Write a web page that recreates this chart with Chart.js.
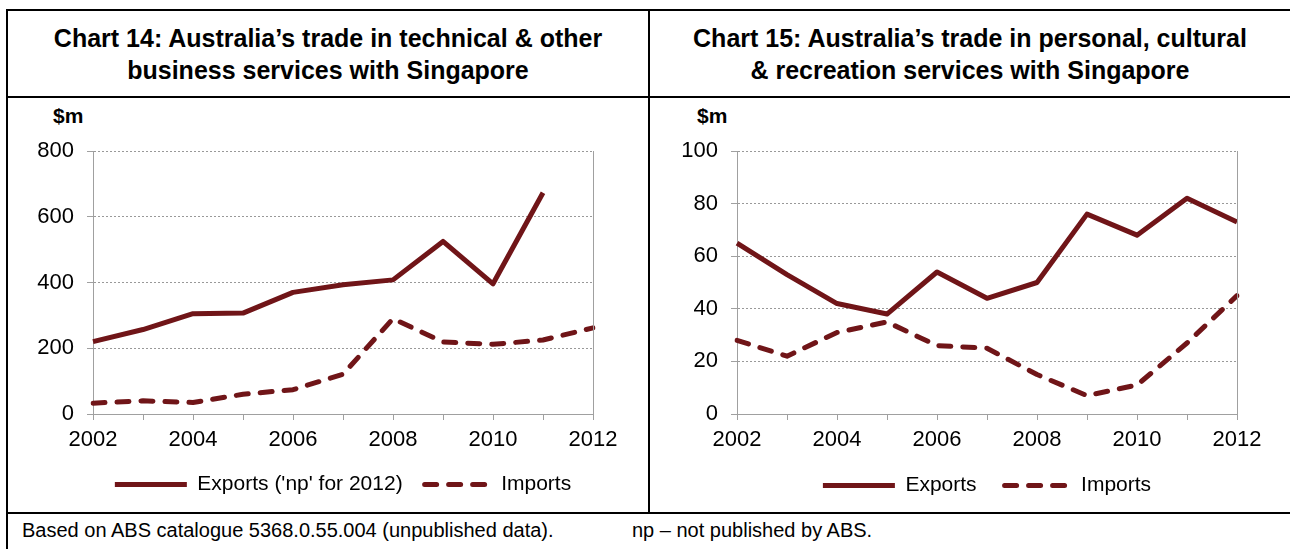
<!DOCTYPE html>
<html>
<head>
<meta charset="utf-8">
<script src="https://cdn.jsdelivr.net/npm/chart.js@4.4.1/dist/chart.umd.min.js"></script>
<style>
    body { margin: 0; background: #fff; font-family: "Liberation Sans", Arial, sans-serif; }
    #page { position: relative; width: 1290px; height: 549px; overflow: hidden; }
    .rule { position: absolute; background: #000; }
    .title {
        position: absolute; top: 11px; height: 85px; width: 640px;
        display: flex; align-items: center; justify-content: center;
        text-align: center; font-weight: bold; font-size: 25px; line-height: 32px;
    }
    .unit { position: absolute; top: 104px; font-weight: bold; font-size: 21px; }
    .box { position: absolute; top: 98px; width: 640px; height: 414px; }
    .note { position: absolute; top: 519px; font-size: 20px; }
</style>
</head>
<body>
<div id="page">
    <div class="rule" style="left:6px;top:9px;width:1284px;height:2px"></div>
    <div class="rule" style="left:6px;top:9px;width:2px;height:540px"></div>
    <div class="rule" style="left:6px;top:96px;width:1284px;height:2px"></div>
    <div class="rule" style="left:648px;top:9px;width:2px;height:505px"></div>
    <div class="rule" style="left:6px;top:512px;width:1284px;height:2px"></div>

    <div class="title" style="left:8px">Chart 14: Australia’s trade in technical &amp; other<br>business services with Singapore</div>
    <div class="title" style="left:650px">Chart 15: Australia’s trade in personal, cultural<br>&amp; recreation services with Singapore</div>

    <div class="unit" style="left:53px">$m</div>
    <div class="unit" style="left:697px">$m</div>

    <div class="box" style="left:8px"><canvas id="chart-14"></canvas></div>
    <div class="box" style="left:650px"><canvas id="chart-15"></canvas></div>

    <div class="note" style="left:22px">Based on ABS catalogue 5368.0.55.004 (unpublished data).</div>
    <div class="note" style="left:632px">np – not published by ABS.</div>
</div>

<script>
// Years on the x axis (both charts)
const years = ["2002", "2003", "2004", "2005", "2006", "2007", "2008", "2009", "2010", "2011", "2012"];

// Chart 14: technical & other business services ($m), 2012 exports not published
const techExports = [220, 257, 305, 307, 370, 393, 408, 525, 396, 673, null];
const techImports = [33, 40, 35, 60, 74, 121, 290, 219, 212, 225, 262];

// Chart 15: personal, cultural & recreation services ($m)
const persExports = [65, 53, 42, 38, 54, 44, 50, 76, 68, 82, 73];
const persImports = [28, 22, 31, 35, 26, 25, 15, 7, 11, 27, 45];

const lineColor = "#701518";
const axisColor = "#a0a0a0";
const gridColor = "#999999";
const font = "'Liberation Sans', Arial, sans-serif";

// thin grey line closing the plot on the right
const plotFrame = {
    id: "plotFrame",
    afterDraw(chart) {
        const { ctx, chartArea } = chart;
        ctx.save();
        ctx.strokeStyle = axisColor;
        ctx.lineWidth = 1;
        ctx.beginPath();
        ctx.moveTo(chartArea.right + 0.5, chartArea.top);
        ctx.lineTo(chartArea.right + 0.5, chartArea.bottom);
        ctx.stroke();
        ctx.restore();
    },
};

// legend samples: take dash and caps from the dataset line itself
const legendLabels = (chart) =>
    Chart.defaults.plugins.legend.labels.generateLabels(chart).map((item) => {
        const ds = chart.data.datasets[item.datasetIndex];
        return {
            ...item,
            lineWidth: ds.borderWidth,
            lineDash: ds.borderDash || [],
            lineDashOffset: ds.borderDash ? -6 : 0,
            lineCap: ds.borderCapStyle || "butt",
        };
    });

const makeChart = (id, cfg) => {
    const ctx = document.getElementById(id);
    return new Chart(ctx, {
        type: "line",
        data: {
            labels: years,
            datasets: [
                {
                    label: cfg.exportLabel,
                    data: cfg.exports,
                    borderColor: lineColor,
                    backgroundColor: lineColor,
                    borderWidth: 5,
                    borderJoinStyle: "round",
                    pointRadius: 0,
                    tension: 0,
                    spanGaps: false,
                },
                {
                    label: "Imports",
                    data: cfg.imports,
                    borderColor: lineColor,
                    backgroundColor: lineColor,
                    borderWidth: 5,
                    borderDash: [12, 12],
                    borderCapStyle: "round",
                    borderJoinStyle: "round",
                    pointRadius: 0,
                    tension: 0,
                },
            ],
        },
        options: {
            responsive: true,
            maintainAspectRatio: false,
            animation: false,
            layout: {
                padding: { left: 0, right: cfg.padRight, top: 53, bottom: cfg.padBottom },
            },
            scales: {
                x: {
                    afterFit: (scale) => { scale.height = cfg.xHeight; },
                    border: { display: true, color: axisColor, width: 1 },
                    grid: {
                        drawOnChartArea: false,
                        drawTicks: true,
                        tickLength: 6,
                        tickColor: axisColor,
                    },
                    ticks: {
                        autoSkip: false,
                        maxRotation: 0,
                        padding: 7,
                        color: "#000",
                        font: { family: font, size: 22 },
                        callback: (value, index) => (index % 2 === 0 ? years[index] : ""),
                    },
                },
                y: {
                    min: 0,
                    max: cfg.yMax,
                    afterFit: (scale) => { scale.width = cfg.yWidth; },
                    border: { display: true, color: axisColor, width: 1, dash: [2, 2] },
                    grid: {
                        color: gridColor,
                        tickLength: 6,
                        tickColor: axisColor,
                        tickBorderDash: [],
                    },
                    ticks: {
                        stepSize: cfg.yStep,
                        padding: 13,
                        color: "#000",
                        font: { family: font, size: 22 },
                    },
                },
            },
            plugins: {
                legend: {
                    position: "bottom",
                    fullSize: false,
                    maxHeight: 46,
                    labels: {
                        usePointStyle: true,
                        pointStyle: "line",
                        pointStyleWidth: 72,
                        padding: cfg.legendPad,
                        color: "#000",
                        font: { family: font, size: 21 },
                        generateLabels: legendLabels,
                    },
                },
                tooltip: { enabled: false },
            },
        },
        plugins: [plotFrame],
    });
};

makeChart("chart-14", {
    exportLabel: "Exports ('np' for 2012)",
    exports: techExports,
    imports: techImports,
    yMax: 800,
    yStep: 200,
    yWidth: 85,
    padRight: 55,
    padBottom: 8,
    xHeight: 44,
    legendPad: 16,
});

makeChart("chart-15", {
    exportLabel: "Exports",
    exports: persExports,
    imports: persImports,
    yMax: 100,
    yStep: 20,
    yWidth: 87,
    padRight: 53,
    padBottom: 13,
    xHeight: 39,
    legendPad: 22,
});
</script>
</body>
</html>
